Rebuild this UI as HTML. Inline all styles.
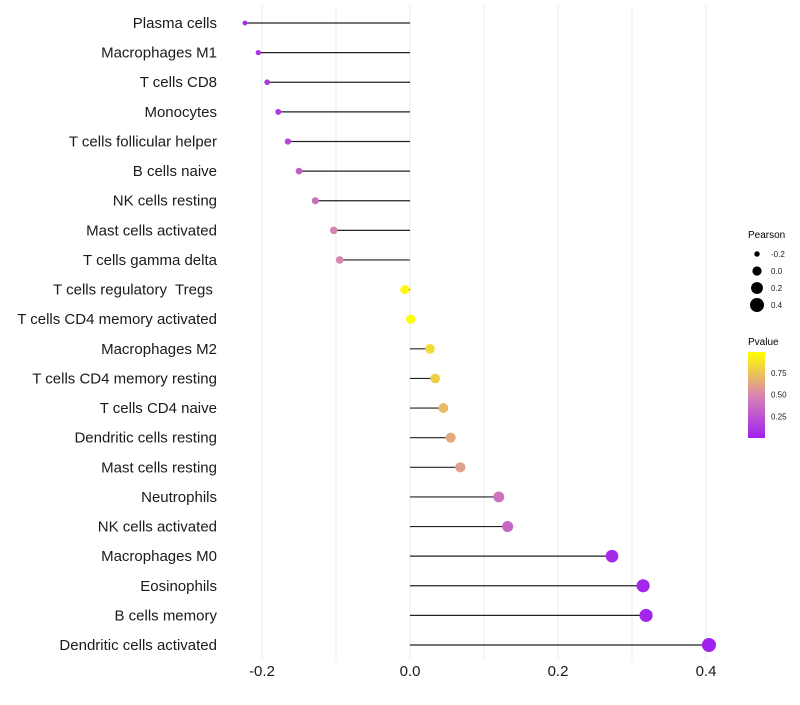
<!DOCTYPE html>
<html><head><meta charset="utf-8"><style>
body{margin:0;background:#fff;font-family:"Liberation Sans",sans-serif;}
svg text{font-family:"Liberation Sans",sans-serif;white-space:pre;}
</style></head><body>
<svg id="chart" width="800" height="700" xmlns="http://www.w3.org/2000/svg">
<defs><linearGradient id="pg" x1="0" y1="1" x2="0" y2="0">
<stop offset="0" stop-color="#A020F0"/><stop offset="0.5" stop-color="#D886B0"/><stop offset="1" stop-color="#FFFF00"/>
</linearGradient></defs>
<g id="grid"></g>
<g id="marks"></g>
<g id="labels"></g>
<g id="xt"></g>
<g>
<text x="748" y="238" font-size="10">Pearson</text>
<g id="sizeLeg"></g>
</g>
<g>
<text x="748" y="345" font-size="10">Pvalue</text>
<rect x="748" y="352" width="17" height="86" fill="url(#pg)"/>
<g id="colLeg"></g>
</g>
</svg>
<script>
const categories=["Plasma cells","Macrophages M1","T cells CD8","Monocytes","T cells follicular helper","B cells naive","NK cells resting","Mast cells activated","T cells gamma delta","T cells regulatory  Tregs ","T cells CD4 memory activated","Macrophages M2","T cells CD4 memory resting","T cells CD4 naive","Dendritic cells resting","Mast cells resting","Neutrophils","NK cells activated","Macrophages M0","Eosinophils","B cells memory","Dendritic cells activated"];
const pearson=[-0.223,-0.205,-0.193,-0.178,-0.165,-0.150,-0.128,-0.103,-0.095,-0.007,0.001,0.027,0.034,0.045,0.055,0.068,0.120,0.132,0.273,0.315,0.319,0.404];
const pvalue=[0.05,0.1,0.12,0.15,0.2,0.3,0.38,0.48,0.5,0.97,0.99,0.85,0.8,0.72,0.65,0.6,0.4,0.35,0.05,0.03,0.02,0.01];
const xTicks=[-0.2,0,0.2,0.4];
const xTickLabels=["-0.2","0.0","0.2","0.4"];
const sizeLegVals=[-0.2,0,0.2,0.4];
const sizeLegLabels=["-0.2","0.0","0.2","0.4"];
const colLegVals=[0.25,0.5,0.75];
const colLegLabels=["0.25","0.50","0.75"];
const NS="http://www.w3.org/2000/svg";
const X=v=>410+v*740;
const Y=i=>23+i*29.62;
const R=v=>Math.sqrt(Math.max(1,21.3+69.2*v));
const pY=p=>438-p*86/0.99;
function lerp(a,b,t){return a.map((x,i)=>Math.round(x+(b[i]-x)*t));}
function col(p){const s=[[160,32,240],[216,134,176],[255,255,0]];let c=p<0.5?lerp(s[0],s[1],p/0.5):lerp(s[1],s[2],(p-0.5)/0.5);return `rgb(${c})`;}
function mk(t,a,parent){const e=document.createElementNS(NS,t);for(const k in a)e.setAttribute(k,a[k]);document.getElementById(parent).appendChild(e);return e;}
[-0.2,-0.1,0,0.1,0.2,0.3,0.4].forEach(v=>{const g=mk('line',{x1:X(v),x2:X(v),y1:5,y2:660,stroke:'#ebebeb','stroke-width':1},'grid');

});
categories.forEach((c,i)=>{
const l=mk('line',{x1:X(0),x2:X(pearson[i]),y1:Y(i),y2:Y(i),stroke:'#222','stroke-width':1.2},'marks');


const d=mk('circle',{cx:X(pearson[i]),cy:Y(i),r:R(pearson[i]),fill:col(pvalue[i])},'marks');


const t=mk('text',{x:217,y:Y(i)+5,'text-anchor':'end','font-size':15,fill:'#1a1a1a'},'labels');


t.textContent=c;});
xTicks.forEach((v,i)=>{const t=mk('text',{x:X(v),y:676,'text-anchor':'middle','font-size':15,fill:'#1a1a1a'},'xt');


t.textContent=xTickLabels[i];});
sizeLegVals.forEach((v,i)=>{const y=254+i*17;
const c=mk('circle',{cx:757,cy:y,r:R(v),fill:'#000'},'sizeLeg');


const t=mk('text',{x:771,y:y+3,'font-size':8,fill:'#1a1a1a'},'sizeLeg');


t.textContent=sizeLegLabels[i];});
colLegVals.forEach((v,i)=>{const y=pY(v);
const t=mk('text',{x:771,y:y+3,'font-size':8,fill:'#1a1a1a'},'colLeg');


t.textContent=colLegLabels[i];});
</script>
</body></html>
